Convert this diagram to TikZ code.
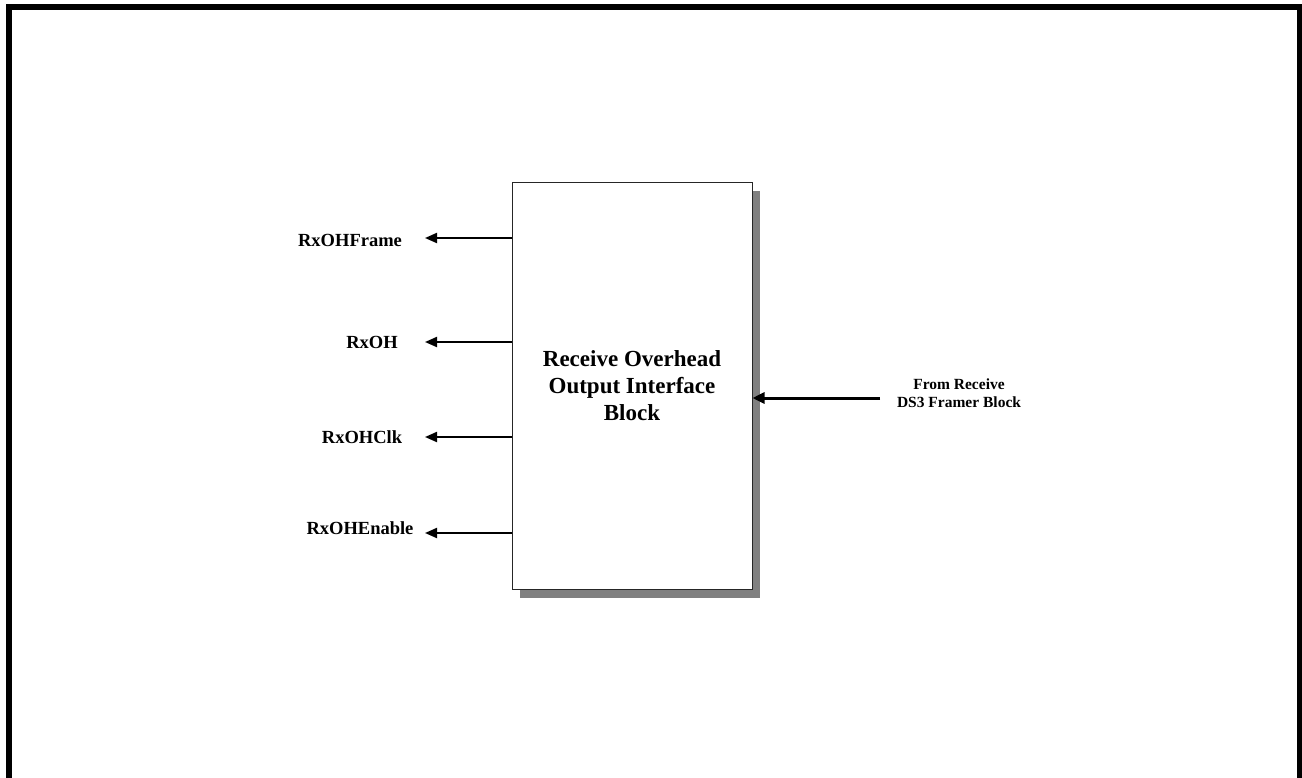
\documentclass[tikz,border=0pt]{standalone}
\usepackage{fontspec}
\setmainfont{Liberation Serif}
\usetikzlibrary{arrows.meta,shadows}
\begin{document}
\begin{tikzpicture}[x=1pt,y=-1pt,
  sig/.style={font=\fontsize{18.5}{22}\selectfont\bfseries, inner sep=0pt},
  outarrow/.style={line width=2pt, -{Triangle[length=12pt,width=10pt]}},
  inarrow/.style={line width=3pt, -{Triangle[length=12pt,width=11pt]}},
  blockbox/.style={draw=black!85, line width=1pt, fill=white, minimum width=240pt, minimum height=407pt, inner sep=0pt,
    drop shadow={shadow xshift=8pt, shadow yshift=-9pt, fill=black!50, opacity=1}}
]
\useasboundingbox (0,0) rectangle (1302,777);
\begin{scope}
\clip (0,0) rectangle (1302,777);
\draw[line width=6pt] (9,800) -- (9,7) -- (1300,7) -- (1300,800);
\end{scope}

\node[blockbox, align=center, font=\fontsize{23}{27}\selectfont\bfseries] (box) at (632,385.5) {Receive Overhead\\Output Interface\\Block};

\coordinate (t1) at (425,238);
\coordinate (t2) at (425,342);
\coordinate (t3) at (425,437);
\coordinate (t4) at (425,533);
\draw[outarrow] (t1 -| box.west) -- (t1);
\draw[outarrow] (t2 -| box.west) -- (t2);
\draw[outarrow] (t3 -| box.west) -- (t3);
\draw[outarrow] (t4 -| box.west) -- (t4);

\node[sig] (l1) at (350,240) {RxOHFrame};
\node[sig] (l2) at (372,342) {RxOH};
\node[sig] (l3) at (362,437) {RxOHClk};
\node[sig] (l4) at (360,528) {RxOHEnable};

\coordinate (src) at (880,398);
\draw[inarrow] (src) -- (src -| box.east);
\node[align=center, inner sep=0pt, font=\fontsize{15.5}{18}\selectfont\bfseries] (from) at (959,393) {From Receive\\DS3 Framer Block};
\end{tikzpicture}
\end{document}
